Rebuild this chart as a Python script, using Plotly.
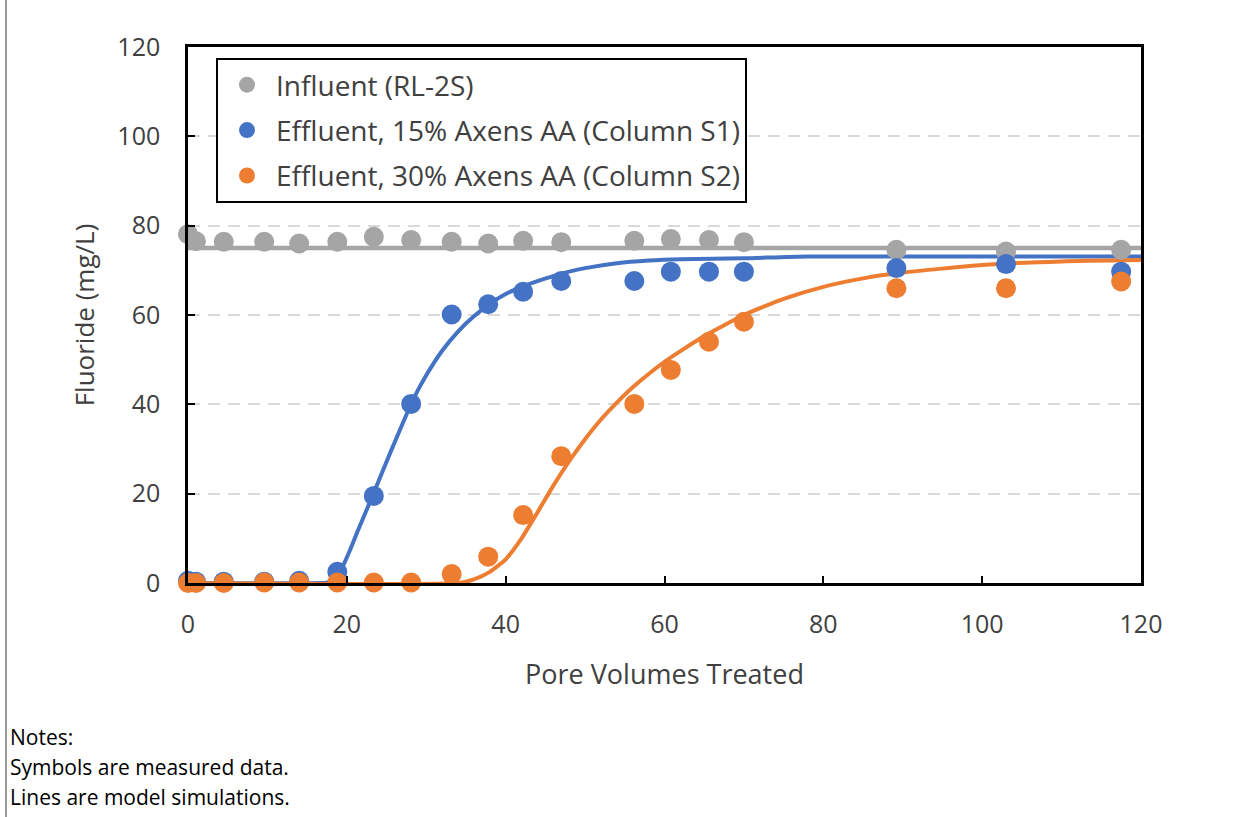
import plotly.graph_objects as go

# ---------------- data ----------------
pv_measured = [0, 1, 4.5, 9.6, 14, 18.8, 23.4, 28.1, 33.2, 37.8, 42.2, 47, 56.2,
               60.8, 65.6, 70, 89.2, 103, 117.5]
influent = [78.1, 76.5, 76.4, 76.4, 76.0, 76.4, 77.5, 76.8, 76.4, 76.0, 76.6, 76.3,
            76.6, 77.0, 76.8, 76.3, 74.6, 74.2, 74.6]
effluent_s1 = [0.5, 0.3, 0.3, 0.3, 0.5, 2.5, 19.5, 40.1, 60.1, 62.4, 65.2, 67.6,
               67.6, 69.7, 69.7, 69.7, 70.5, 71.4, 69.7]
effluent_s2 = [0, 0, 0, 0.1, 0.1, 0.1, 0.1, 0.1, 2.0, 5.9, 15.2, 28.4, 40.1, 47.7,
               54.0, 58.5, 66.0, 66.0, 67.5]

model_inf_x = [0, 120]
model_inf_y = [75, 75]

model_s1_x = [0, 17, 17.5, 18.5, 19.5, 20.5, 21.5, 22.5, 23.3, 24.5, 25.5, 27, 28.5,
              30, 32, 34, 36, 38, 40, 42, 44, 46, 48, 50, 54, 58, 62, 70, 78, 120]
model_s1_y = [0, 0, 0.1, 1.0, 3.8, 7.8, 12.2, 16.4, 19.8, 25.0, 29.3, 35.6, 41.6,
              46.5, 52.0, 56.3, 59.7, 62.5, 64.7, 66.3, 67.6, 68.7, 69.7, 70.5, 71.6,
              72.2, 72.5, 72.7, 73.1, 73.1]

model_s2_x = [0, 34, 36, 38, 40, 42, 44, 46, 48, 50, 52, 54, 56, 58, 60, 62, 65, 70,
              75, 80, 85, 90, 100, 110, 120]
model_s2_y = [0, 0, 0.8, 2.5, 5.3, 10.0, 15.8, 21.8, 27.3, 32.2, 36.6, 40.4, 43.8,
              46.8, 49.5, 51.9, 55.3, 60.0, 63.6, 66.3, 68.2, 69.5, 71.2, 72.0, 72.3]

names = ["Influent (RL-2S)", "Effluent, 15% Axens AA (Column S1)",
         "Effluent, 30% Axens AA (Column S2)"]
colors = ["#A5A5A5", "#4472C4", "#ED7D31"]

x_ticks = [0, 20, 40, 60, 80, 100, 120]
y_ticks = [0, 20, 40, 60, 80, 100, 120]

notes = ["Notes:", "Symbols are measured data.", "Lines are model simulations."]

# ---------------- layout geometry ----------------
W, H = 1252, 817
L, R, T, B = 188, 111, 47, 234
pw, ph = W - L - R, H - T - B

def px_x(p):
    return (p - L) / pw

def px_y(p):
    return (H - B - p) / ph

fig = go.Figure()

for mx, my, c, w in [(model_inf_x, model_inf_y, colors[0], 4.5),
                     (model_s1_x, model_s1_y, colors[1], 4),
                     (model_s2_x, model_s2_y, colors[2], 4)]:
    fig.add_trace(go.Scatter(x=mx, y=my, mode="lines", showlegend=False,
                             line=dict(color=c, width=w, shape="spline", smoothing=0.5),
                             hoverinfo="skip"))

for i, (ys, c) in enumerate(zip([influent, effluent_s1, effluent_s2], colors)):
    fig.add_trace(go.Scatter(x=pv_measured, y=ys, mode="markers", name=names[i],
                             legendgroup=f"g{i}",
                             marker=dict(color=c, size=20, line=dict(width=0)),
                             cliponaxis=False))

font_family = "Open Sans, Noto Sans, sans-serif"
txt = "#404040"

fig.update_layout(
    width=W, height=H,
    margin=dict(l=L, r=R, t=T, b=B),
    paper_bgcolor="white", plot_bgcolor="white",
    font=dict(family=font_family, color=txt),
    showlegend=True,
    legend=dict(x=px_x(216), y=px_y(58), xanchor="left", yanchor="top",
                bgcolor="white", bordercolor="black", borderwidth=2,
                font=dict(size=28, color=txt, family=font_family),
                traceorder="grouped", tracegroupgap=6,
                itemsizing="trace", itemwidth=48),
    xaxis=dict(range=[0, 120], tickvals=x_ticks, showgrid=False, zeroline=False,
               showline=True, linecolor="black", linewidth=2.5, mirror=True,
               ticks="inside", ticklen=7, tickwidth=2, tickcolor="black",
               tickfont=dict(size=25, color=txt), ticklabelstandoff=17,
               title=dict(text="Pore Volumes Treated", font=dict(size=27, color=txt),
                          standoff=27)),
    yaxis=dict(range=[0, 120], tickvals=y_ticks, showgrid=True, gridcolor="#D9D9D9",
               gridwidth=2, griddash="12px,8px", zeroline=False,
               showline=True, linecolor="black", linewidth=2.5, mirror=True,
               ticks="inside", ticklen=7, tickwidth=2, tickcolor="black",
               tickfont=dict(size=25, color=txt), ticklabelstandoff=20,
               title=dict(text="Fluoride (mg/L)", font=dict(size=26, color=txt),
                          standoff=16)),
)

# left frame line of the figure
fig.add_shape(type="line", xref="paper", yref="paper",
              x0=px_x(6), x1=px_x(6), y0=px_y(0), y1=px_y(H),
              line=dict(color="#555555", width=1.2))

for i, t in enumerate(notes):
    fig.add_annotation(text=t, xref="paper", yref="paper", x=px_x(8), y=px_y(737 + 30 * i),
                       xanchor="left", yanchor="middle", showarrow=False,
                       font=dict(size=21, color="black", family=font_family))

fig.write_html("out.html")
